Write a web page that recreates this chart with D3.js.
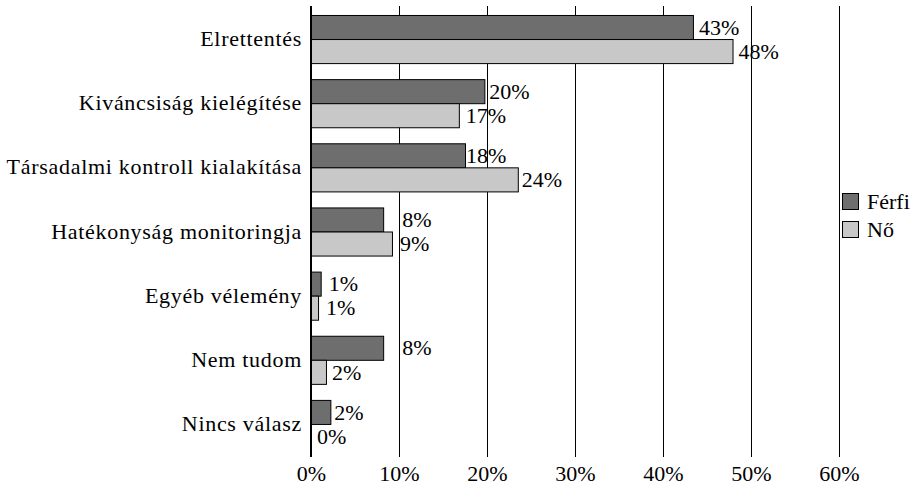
<!DOCTYPE html>
<html>
<head>
<meta charset="utf-8">
<script src="https://cdn.jsdelivr.net/npm/d3@7"></script>
<style>
  body { margin: 0; background: #fff; }
  svg text { font-family: "Liberation Serif", "DejaVu Serif", serif; fill: #000; }
</style>
</head>
<body>
<div id="canvas"></div>
<script>
// data (percent)
var categories = ['Elrettentés', 'Kiváncsiság kielégítése', 'Társadalmi kontroll kialakítása',
  'Hatékonyság monitoringja', 'Egyéb vélemény', 'Nem tudom', 'Nincs válasz'];
var series = ['Férfi', 'Nő'];
var ferfi = [43.4, 19.7, 17.5, 8.2, 1.1, 8.2, 2.2];
var no = [47.9, 16.8, 23.5, 9.2, 0.8, 1.7, 0];
var ticks = [0, 10, 20, 30, 40, 50, 60];

// label nudges (px) as placed in the original
var labelShift = {ferfi: [6, 5, 1, 19, 8, 19, 4], no: [6, 7, 4, 8, 8, 6, 6]};

var W = 912, H = 485;
var colors = {'Férfi': '#6e6e6e', 'Nő': '#c8c8c8'};
var fs = '22px';

var svg = d3.select('#canvas').append('svg')
  .attr('width', W).attr('height', H);

var x = d3.scaleLinear().domain([0, 60]).range([311, 839]);
var y = d3.scaleBand().domain(categories).range([6, 457])
  .paddingInner(0.25).paddingOuter(0.14);
var ys = d3.scaleBand().domain(series).range([0, y.bandwidth()]);

// gridlines
svg.append('g').selectAll('line')
  .data(ticks.slice(1))
  .enter().append('line')
  .attr('x1', function(d){ return x(d) + 0.5; })
  .attr('x2', function(d){ return x(d) + 0.5; })
  .attr('y1', 6).attr('y2', 457)
  .style('stroke', '#000').style('stroke-width', 1);

// x tick labels
var axisX = d3.axisBottom(x).tickValues(ticks).tickSize(0).tickPadding(7)
  .tickFormat(function(d){ return d + '%'; });
svg.append('g').attr('transform', 'translate(0,' + 458 + ')')
  .call(axisX)
  .call(function(g){ g.select('.domain').remove(); })
  .selectAll('text').style('font-size', fs)
  .style('font-family', '"Liberation Serif", serif');

// category labels
var axisY = d3.axisLeft(y).tickSize(0).tickPadding(0);
svg.append('g').attr('transform', 'translate(' + 302 + ',0)')
  .call(axisY)
  .call(function(g){ g.select('.domain').remove(); })
  .selectAll('text').style('font-size', fs)
  .style('font-family', '"Liberation Serif", serif')
  .style('letter-spacing', '0.7px');

var rows = categories.map(function(c, i){
  return {cat: c, i: i, vals: [
    {s: 'Férfi', v: ferfi[i], shift: labelShift.ferfi[i]},
    {s: 'Nő', v: no[i], shift: labelShift.no[i]}
  ]};
});

var groups = svg.selectAll('.cat')
  .data(rows).enter().append('g')
  .attr('class', 'cat')
  .attr('transform', function(d){ return 'translate(0,' + y(d.cat) + ')'; });

groups.selectAll('rect')
  .data(function(d){ return d.vals; })
  .enter().append('rect')
  .attr('x', x(0) + 0.5)
  .attr('y', function(d){ return ys(d.s) + 0.5; })
  .attr('width', function(d){ return Math.max(0, x(d.v) - x(0)); })
  .attr('height', ys.bandwidth())
  .style('fill', function(d){ return colors[d.s]; })
  .style('stroke', function(d){ return d.v > 0 ? '#000' : 'none'; })
  .style('stroke-width', 1);

groups.selectAll('text.val')
  .data(function(d){ return d.vals; })
  .enter().append('text')
  .attr('class', 'val')
  .attr('x', function(d){ return x(d.v) + d.shift; })
  .attr('y', function(d){ return ys(d.s) + ys.bandwidth() / 2; })
  .attr('dy', '0.35em')
  .style('font-size', fs)
  .text(function(d){ return Math.round(d.v) + '%'; });

// vertical axis line at 0
svg.append('line')
  .attr('x1', x(0)).attr('x2', x(0))
  .attr('y1', 6).attr('y2', 457)
  .style('stroke', '#000').style('stroke-width', 2);

// legend
var legend = svg.append('g').attr('transform', 'translate(842,193)');
var li = legend.selectAll('g').data(series).enter().append('g')
  .attr('transform', function(d, i){ return 'translate(0,' + i * 28 + ')'; });
li.append('rect')
  .attr('x', 0.5).attr('y', 0.5).attr('width', 16).attr('height', 16)
  .style('fill', function(d){ return colors[d]; })
  .style('stroke', '#000');
li.append('text')
  .attr('x', 25).attr('y', 8.5).attr('dy', '0.35em')
  .style('font-size', fs)
  .text(function(d){ return d; });
</script>
</body>
</html>
